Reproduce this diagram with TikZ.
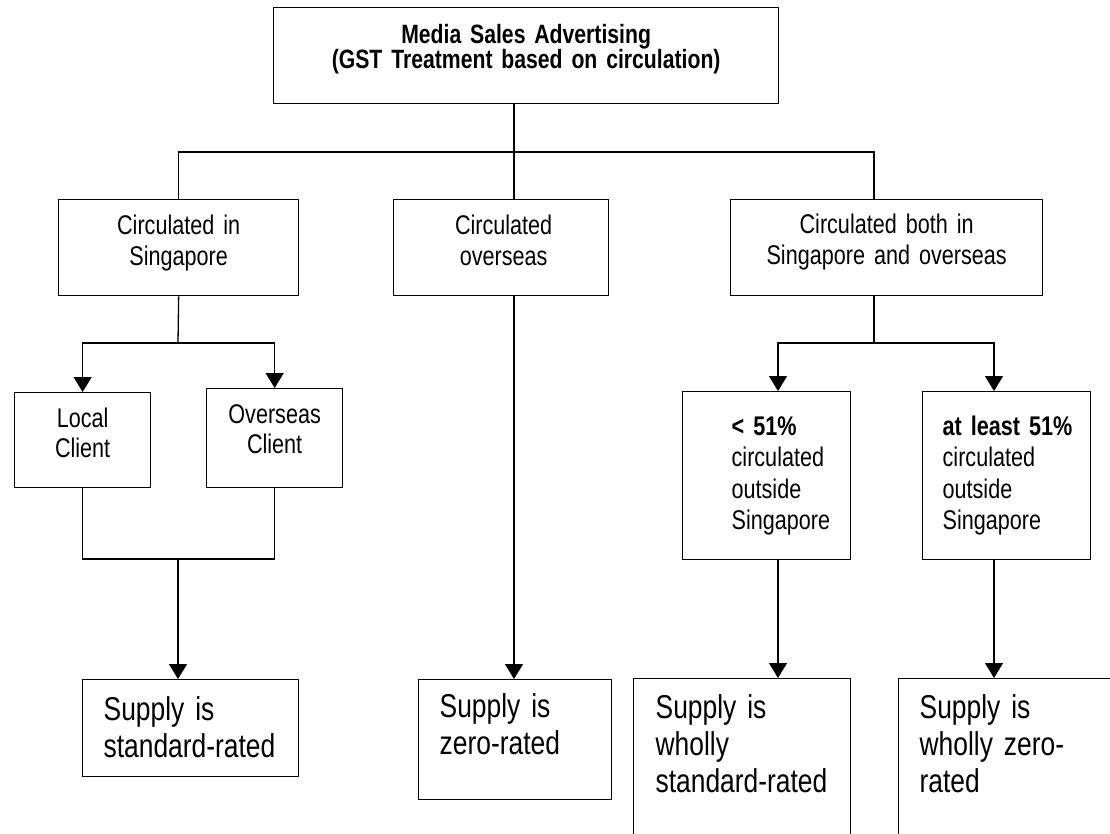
\documentclass[tikz,border=0pt]{standalone}
\usepackage{fontspec}
\setmainfont{Liberation Sans}[FakeStretch=0.80]
\usetikzlibrary{arrows.meta}

\tikzset{
  box/.style={draw, line width=1.3pt, inner sep=0pt, anchor=north west},
  txt/.style={inner sep=0pt, font=\fontsize{27}{31.5}\selectfont},
  bigtxt/.style={inner sep=0pt, text width=200, align=left, anchor=base west,
    font=\fontsize{33}{37}\selectfont},
  arr/.style={-{Triangle[length=15pt,width=18pt]}},
}

\begin{document}
\begin{tikzpicture}[x=1pt, y=-1pt, line width=1.3pt]
    \useasboundingbox (0, 0) rectangle (1110, 833);
    \clip (0, 0) rectangle (1110, 833);

    \node[box, minimum width=505, minimum height=96] (top) at (273, 7) {};
    \node[box, minimum width=240, minimum height=96] (cis) at (58, 199) {};
    \node[box, minimum width=215, minimum height=96] (cov) at (393, 199) {};
    \node[box, minimum width=312, minimum height=96] (cboth) at (730, 199) {};
    \node[box, minimum width=136, minimum height=95] (lc) at (14, 392) {};
    \node[box, minimum width=136, minimum height=99] (oc) at (206, 388) {};
    \node[box, minimum width=168, minimum height=168] (lt) at (682, 391) {};
    \node[box, minimum width=168, minimum height=168] (ge) at (922, 391) {};
    \node[box, minimum width=216, minimum height=97] (sr) at (82, 679) {};
    \node[box, minimum width=193, minimum height=120] (zr) at (418, 679) {};
    \node[box, minimum width=217, minimum height=220] (wsr) at (633, 678) {};
    \node[box, minimum width=260, minimum height=220] (wzr) at (898, 678) {};

    % texts
    \node[txt, font=\bfseries\fontsize{26.5}{23}\selectfont, text width=480, align=center, anchor=base]
      (top-t) at ([yshift=-36pt]top.north) {Media Sales Advertising\\(GST Treatment based on circulation)};
    \node[txt, text width=220, align=center, anchor=base] (cis-t) at ([yshift=-35pt]cis.north) {Circulated in\\Singapore};
    \node[txt, text width=200, align=center, anchor=base] (cov-t) at ([xshift=2.5pt, yshift=-35pt]cov.north) {Circulated\\overseas};
    \node[txt, text width=300, align=center, anchor=base] (cboth-t) at ([yshift=-34pt]cboth.north) {Circulated both in\\Singapore and overseas};
    \node[txt, font=\fontsize{27}{30.5}\selectfont, text width=130, align=center, anchor=base] (lc-t) at ([yshift=-35pt]lc.north) {Local\\Client};
    \node[txt, font=\fontsize{27}{30.5}\selectfont, text width=130, align=center, anchor=base] (oc-t) at ([yshift=-35pt]oc.north) {Overseas\\Client};
    \node[txt, text width=150, align=left, anchor=base west] (lt-t) at ([xshift=49pt, yshift=-44pt]lt.north west)
      {\textbf{< 51\%}\\circulated\\outside\\Singapore};
    \node[txt, text width=160, align=left, anchor=base west] (ge-t) at ([xshift=20pt, yshift=-44pt]ge.north west)
      {\textbf{at least 51\%}\\circulated\\outside\\Singapore};
    \node[bigtxt] (sr-t) at ([xshift=21pt, yshift=-41pt]sr.north west) {Supply is\\standard-rated};
    \node[bigtxt] (zr-t) at ([xshift=21pt, yshift=-38pt]zr.north west) {Supply is\\zero-rated};
    \node[bigtxt] (wsr-t) at ([xshift=22pt, yshift=-40pt]wsr.north west) {Supply is\\wholly\\standard-rated};
    \node[bigtxt] (wzr-t) at ([xshift=21pt, yshift=-40pt]wzr.north west) {Supply is\\wholly zero-\\rated};

    % connectors
    \coordinate (j0) at (514, 152);
    \coordinate (j1) at (874, 343);
    \coordinate (j2) at (178, 343);
    \coordinate (j3) at (178, 559);
    \coordinate (c1) at (778, 343);
    \coordinate (c2) at (994, 343);

    \draw (top.south -| j0) -- (j0);
    \draw (cis.north) |- (j0) -| (cboth.north -| j1);
    \draw (j0) -- (cov.north -| j0);
    \draw (cis.south) -- (j2);
    \draw[arr] (j2) -| (lc.north);
    \draw[arr] (j2) -| (oc.north);
    \draw (lc.south) |- (j3) -| (oc.south);
    \draw[arr] (j3) -- (j3 |- sr.north);
    \draw[arr] (cov.south -| j0) -- (zr.north -| j0);
    \draw (cboth.south -| j1) -- (j1);
    \draw[arr] (j1) -| (c1 |- lt.north);
    \draw[arr] (j1) -| (c2 |- ge.north);
    \draw[arr] (c1 |- lt.south) -- (c1 |- wsr.north);
    \draw[arr] (c2 |- ge.south) -- (c2 |- wzr.north);
\end{tikzpicture}
\end{document}
